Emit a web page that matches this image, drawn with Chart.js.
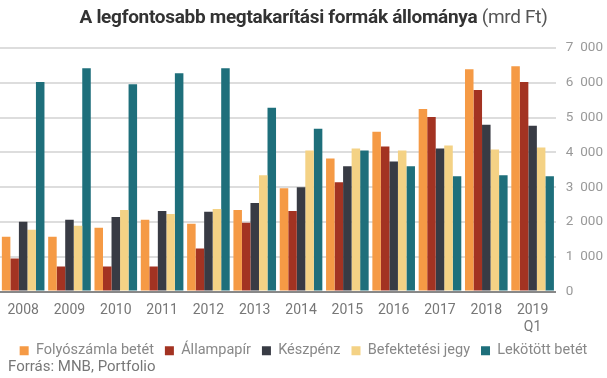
<!DOCTYPE html>
<html lang="hu">
<head>
    <meta charset="UTF-8">
    <title>A legfontosabb megtakarítási formák állománya</title>
    <script src="https://cdn.jsdelivr.net/npm/chart.js"></script>
    <style>
        body { margin: 0; font-family: Roboto, Arial, sans-serif; background: #fff; }
        #wrap { position: relative; width: 607px; height: 378px; overflow: hidden; }
        #title { position: absolute; left: 0; top: 5px; width: 627px; text-align: center; font-size: 19px; color: #333; letter-spacing: -0.3px; }
        #title b { font-weight: 700; }
        #title span { color: #555; font-weight: 400; }
        #source { position: absolute; left: 8px; top: 357px; font-size: 15px; color: #777; }
    </style>
</head>
<body>
<div id="wrap">
    <div id="title"><b>A legfontosabb megtakarítási formák állománya</b> <span>(mrd Ft)</span></div>
    <canvas id="chart" width="607" height="378"></canvas>
    <div id="source">Forrás: MNB, Portfolio</div>
</div>
<script>
    // values in billion HUF
    const years = ['2008', '2009', '2010', '2011', '2012', '2013', '2014', '2015', '2016', '2017', '2018', ['2019', 'Q1']];
    const folyoszamla = [1575, 1575, 1830, 2060, 1945, 2345, 2970, 3825, 4595, 5250, 6390, 6475];
    const allampapir = [950, 720, 720, 720, 1235, 1975, 2315, 3140, 4170, 5020, 5790, 6020];
    const keszpenz = [2003, 2060, 2145, 2315, 2290, 2545, 3000, 3600, 3740, 4110, 4795, 4765];
    const befektetesi = [1775, 1890, 2345, 2230, 2375, 3340, 4050, 4110, 4050, 4195, 4080, 4140];
    const lekotott = [6020, 6420, 5960, 6275, 6420, 5280, 4680, 4050, 3600, 3315, 3340, 3315];

    const series = [
        { label: 'Folyószámla betét', data: folyoszamla, color: '#F59A45' },
        { label: 'Állampapír', data: allampapir, color: '#A33322' },
        { label: 'Készpénz', data: keszpenz, color: '#383B44' },
        { label: 'Befektetési jegy', data: befektetesi, color: '#F4D285' },
        { label: 'Lekötött betét', data: lekotott, color: '#1E6F7B' }
    ];

    new Chart(document.getElementById('chart'), {
        type: 'bar',
        data: {
            labels: years,
            datasets: series.map(s => ({
                label: s.label,
                data: s.data,
                backgroundColor: s.color,
                barPercentage: 1,
                categoryPercentage: 0.92
            }))
        },
        options: {
            responsive: false,
            animation: false,
            layout: { padding: { top: 48, bottom: 10, left: 0, right: 0 } },
            plugins: {
                legend: {
                    position: 'bottom',
                    labels: {
                        boxWidth: 9,
                        boxHeight: 9,
                        padding: 11,
                        color: '#888',
                        font: { family: 'Roboto', size: 14.5 }
                    }
                },
                tooltip: { enabled: false }
            },
            scales: {
                x: {
                    grid: { display: false },
                    border: { color: '#888', width: 2 },
                    ticks: {
                        color: '#777',
                        padding: 2,
                        maxRotation: 0,
                        font: { family: 'Roboto', size: 14, lineHeight: 1.25 }
                    },
                    // let the legend sit a bit closer to the two-line last label
                    afterFit: scale => { scale.height -= 6; }
                },
                y: {
                    position: 'right',
                    min: 0,
                    max: 7000,
                    grid: { color: '#DDDDDD', lineWidth: 2, drawTicks: false },
                    border: { display: false },
                    ticks: {
                        stepSize: 1000,
                        padding: 10,
                        color: '#999',
                        font: { family: 'Roboto', size: 13.5 },
                        callback: v => v.toString().replace(/\B(?=(\d{3})+(?!\d))/g, '\u2002')
                    },
                    afterFit: scale => { scale.width -= 6; }
                }
            }
        }
    });
</script>
</body>
</html>
